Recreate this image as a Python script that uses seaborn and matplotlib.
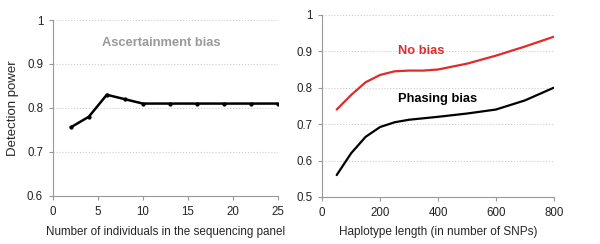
import numpy as np
import pandas as pd
import matplotlib
matplotlib.use("Agg")
import matplotlib.pyplot as plt
import seaborn as sns
from matplotlib.ticker import FuncFormatter

# left panel: ascertainment bias
panel_size = [2, 4, 6, 8, 10, 13, 16, 19, 22, 25]
asc_power = [0.756, 0.78, 0.83, 0.82, 0.81, 0.81, 0.81, 0.81, 0.81, 0.81]

# right panel: haplotype length
hap_len = [50, 100, 150, 200, 250, 300, 350, 400, 500, 600, 700, 800]
no_bias = [0.74, 0.78, 0.815, 0.835, 0.845, 0.847, 0.847, 0.85, 0.866, 0.888, 0.913, 0.94]
phasing_bias = [0.56, 0.62, 0.665, 0.692, 0.705, 0.712, 0.716, 0.72, 0.729, 0.74, 0.765, 0.80]

sns.set_style("white")
plt.rcParams['font.family'] = ['Liberation Sans', 'DejaVu Sans']

fig = plt.figure(figsize=(6, 2.44), dpi=100)
ax1 = fig.add_axes([0.088, 0.197, 0.375, 0.721])
ax2 = fig.add_axes([0.537, 0.193, 0.386, 0.746])

df1 = pd.DataFrame({'n': panel_size, 'power': asc_power})
sns.lineplot(data=df1, x='n', y='power', ax=ax1, color='black', lw=1.8,
             marker='o', markersize=2.3, markeredgecolor='black')

df2 = pd.DataFrame({'len': hap_len, 'No bias': no_bias, 'Phasing bias': phasing_bias})
sns.lineplot(data=df2, x='len', y='No bias', ax=ax2, color='#e02b2b', lw=1.6)
sns.lineplot(data=df2, x='len', y='Phasing bias', ax=ax2, color='black', lw=1.6)

fmt = FuncFormatter(lambda v, p: '%g' % round(v, 2))

ax1.set_xlim(0, 25)
ax1.set_ylim(0.6, 1.0)
ax1.set_xticks([0, 5, 10, 15, 20, 25])
ax1.set_yticks([0.6, 0.7, 0.8, 0.9, 1.0])
ax1.set_xlabel("Number of individuals in the sequencing panel", fontsize=8.4, labelpad=6)
ax1.set_ylabel("Detection power", fontsize=9.5, labelpad=6)
ax1.text(12, 0.948, "Ascertainment bias", color='#999999', fontsize=9.3,
         fontweight='bold', ha='center', va='center')

ax2.set_xlim(0, 800)
ax2.set_ylim(0.5, 1.0)
ax2.set_xticks([0, 200, 400, 600, 800])
ax2.set_yticks([0.5, 0.6, 0.7, 0.8, 0.9, 1.0])
ax2.set_xlabel("Haplotype length (in number of SNPs)", fontsize=8.5, labelpad=5)
ax2.set_ylabel("")
ax2.text(341, 0.90, "No bias", color='#e02b2b', fontsize=9.3,
         fontweight='bold', ha='center', va='center')
ax2.text(397, 0.769, "Phasing bias", color='black', fontsize=9.3,
         fontweight='bold', ha='center', va='center')

for ax in (ax1, ax2):
    ax.yaxis.set_major_formatter(fmt)
    ax.grid(axis='y', color='#cccccc', linestyle=':', lw=0.8)
    for s in ('top', 'right'):
        ax.spines[s].set_visible(False)
    for s in ('left', 'bottom'):
        ax.spines[s].set_color('#999999')
        ax.spines[s].set_linewidth(0.8)
    ax.tick_params(axis='both', which='major', labelsize=8.3, length=3,
                   width=0.8, color='#999999', labelcolor='#222222',
                   direction='out', bottom=True, left=True, pad=4)

fig.savefig("out.png", dpi=100)
